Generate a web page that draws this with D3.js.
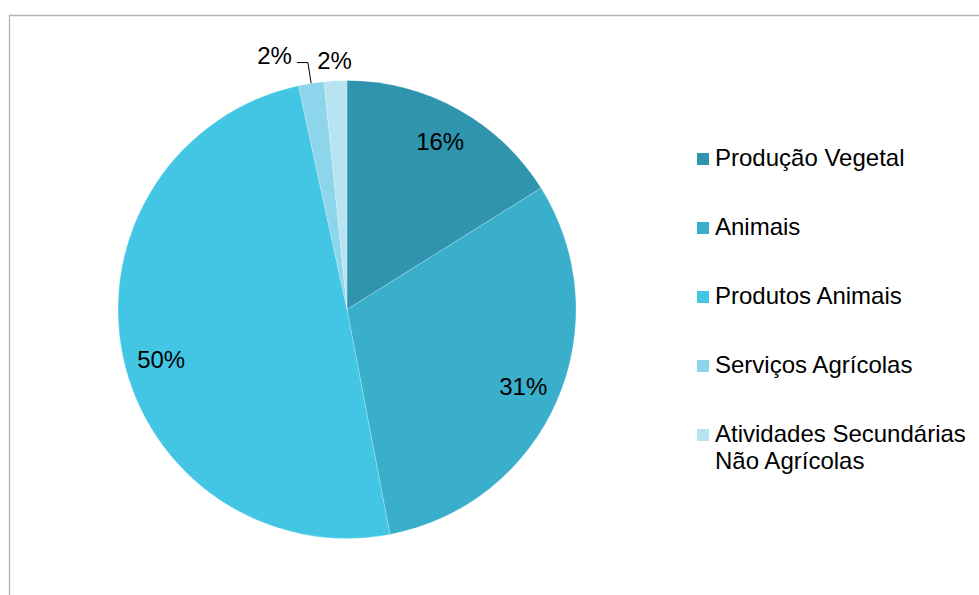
<!DOCTYPE html>
<html>
<head>
<meta charset="utf-8">
<script src="https://cdn.jsdelivr.net/npm/d3@7"></script>
<style>
  html, body { margin: 0; padding: 0; background: #fff; }
  svg { display: block; font-family: "Liberation Sans", Arial, sans-serif; }
</style>
</head>
<body>
<svg id="chart" width="979" height="595"></svg>
<script>
// Composição por tipo de atividade (percentagem do total)
const categories = [
  "Produção Vegetal",
  "Animais",
  "Produtos Animais",
  "Serviços Agrícolas",
  "Atividades Secundárias\nNão Agrícolas"
];
const values = [16.1, 30.9, 49.6, 1.8, 1.6];
const colors = ["#2F94AD", "#3AAFCB", "#42C6E4", "#8DD5EA", "#B8E3F1"];

const svg = d3.select("#chart");
const W = 979, H = 595;
const cx = 347, cy = 309.5, R = 229;
const fontSize = 24;

// Frame (top and left edges of the chart area)
svg.append("path")
  .attr("d", `M9.5,${H} L9.5,15.5 L${W},15.5`)
  .attr("fill", "none")
  .attr("stroke", "#b3b3b3")
  .attr("stroke-width", 1.3);

const total = d3.sum(values);
const data = categories.map((c, i) => ({ name: c, value: values[i], color: colors[i], i }));

const pie = d3.pie().value(d => d.value).sort(null).startAngle(0).endAngle(2 * Math.PI);
const arcs = pie(data);
const arc = d3.arc().innerRadius(0).outerRadius(R);
const labelArc = d3.arc().innerRadius(R * 0.84).outerRadius(R * 0.84);

const g = svg.append("g").attr("transform", `translate(${cx},${cy})`);

g.selectAll("path.slice")
  .data(arcs)
  .join("path")
  .attr("class", "slice")
  .attr("d", arc)
  .attr("fill", d => d.data.color)
  .attr("stroke", "#ffffff")
  .attr("stroke-opacity", 0.35)
  .attr("stroke-width", 0.6);

const fmt = v => Math.round(v / total * 100) + "%";

// Labels inside the larger slices; the widest slice's label sits a little
// further along the arc, away from the slice edge
const big = arcs.filter(d => d.data.value / total >= 0.05);
const labelPos = d => {
  const mid = (d.startAngle + d.endAngle) / 2;
  const a = (d.endAngle - d.startAngle) > Math.PI * 0.9 ? mid - 0.06 : mid;
  const r = R * 0.84;
  return [r * Math.sin(a), -r * Math.cos(a)];
};
g.selectAll("text.inner")
  .data(big)
  .join("text")
  .attr("class", "inner")
  .attr("x", d => labelPos(d)[0])
  .attr("y", d => labelPos(d)[1])
  .attr("dy", "0.35em")
  .attr("text-anchor", "middle")
  .attr("font-size", fontSize)
  .attr("fill", "#000")
  .text(d => fmt(d.data.value));

// Labels outside the small slices
const small = arcs.filter(d => d.data.value / total < 0.05);
const pointAt = (a, r) => [r * Math.sin(a), -r * Math.cos(a)];
small.forEach((d, k) => {
  const mid = (d.startAngle + d.endAngle) / 2;
  if (k === 0) {
    // leader line from the slice edge to the label
    const p0 = pointAt(mid, R);
    const p1 = pointAt(mid, R + 21);
    const p2 = [p1[0] - 11, p1[1]];
    g.append("polyline")
      .attr("points", [p0, p1, p2].map(p => p.join(",")).join(" "))
      .attr("fill", "none")
      .attr("stroke", "#000")
      .attr("stroke-width", 1);
    g.append("text")
      .attr("x", p2[0] - 5)
      .attr("y", p2[1] - 7)
      .attr("dy", "0.35em")
      .attr("text-anchor", "end")
      .attr("font-size", fontSize)
      .attr("fill", "#000")
      .text(fmt(d.data.value));
  } else {
    const p = pointAt(mid, R + 20);
    g.append("text")
      .attr("x", p[0])
      .attr("y", p[1])
      .attr("dy", "0.35em")
      .attr("text-anchor", "middle")
      .attr("font-size", fontSize)
      .attr("fill", "#000")
      .text(fmt(d.data.value));
  }
});

// Legend
const legend = svg.append("g").attr("transform", "translate(697,153)");
const rowStep = 69;
const item = legend.selectAll("g.item")
  .data(data)
  .join("g")
  .attr("class", "item")
  .attr("transform", (d, i) => `translate(0,${i * rowStep})`);

item.append("rect")
  .attr("width", 12).attr("height", 12)
  .attr("fill", d => d.color);

item.append("text")
  .attr("x", 18)
  .attr("y", 12.8)
  .attr("font-size", fontSize)
  .attr("fill", "#000")
  .each(function(d) {
    const lines = d.name.split("\n");
    d3.select(this).selectAll("tspan")
      .data(lines)
      .join("tspan")
      .attr("x", 18)
      .attr("dy", (l, j) => j === 0 ? 0 : 27)
      .text(l => l);
  });
</script>
</body>
</html>
